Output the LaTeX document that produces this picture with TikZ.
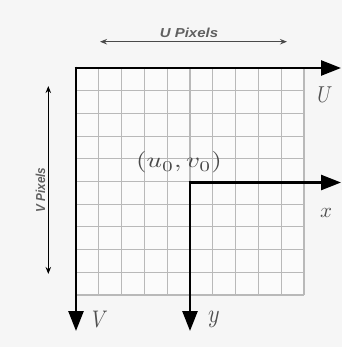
\documentclass[tikz,border=0pt]{standalone}
\usepackage{fontspec}
\newfontfamily\lblfont{Liberation Sans}
\usetikzlibrary{arrows.meta}
\definecolor{bgc}{HTML}{F6F6F6}
\definecolor{gridc}{HTML}{B9B9B9}
\definecolor{pixc}{HTML}{606060}
\definecolor{dimc}{HTML}{4A4A4A}
\definecolor{mathc}{HTML}{505050}
\tikzset{
  axis/.style={line width=2.6pt, -{Triangle[length=20pt,width=15pt]}},
  gridline/.style={draw=gridc, line width=1.1pt},
  dimarrow/.style={draw=dimc, line width=1.4pt, {Stealth[length=7pt,width=5.5pt]}-{Stealth[length=7pt,width=5.5pt]}},
  pixlabel/.style={text=pixc, font=\lblfont\bfseries\itshape\fontsize{13}{15}\selectfont, inner sep=0pt},
  mathlabel/.style={text=mathc, font=\normalsize, inner sep=0pt},
}
\begin{document}
\begin{tikzpicture}[x=1pt,y=-1pt]
\useasboundingbox[fill=bgc] (0,0) rectangle (342,347);
% grid
\fill[white!60!bgc] (76,68) rectangle (304,295);
\foreach \i in {0,...,10} {
  \draw[gridline] ({76+\i*22.8},68) -- ({76+\i*22.8},295);
  \draw[gridline] (76,{68+\i*22.7}) -- (304,{68+\i*22.7});
}
% coordinates
\coordinate (O) at (76,68);
\coordinate (Uend) at (341,68);
\coordinate (Vend) at (76,331);
\coordinate (O2) at (190,182.5);
\coordinate (xend) at (341,182.5);
\coordinate (yend) at (190,331);
% axes
\draw[axis] ([xshift=-1.3pt]O) -- (Uend);
\draw[axis] ([yshift=1.3pt]O) -- (Vend);
\draw[axis] ([xshift=-1.3pt]O2) -- (xend);
\draw[axis] ([yshift=1.3pt]O2) -- (yend);
% labels
\node[mathlabel, xscale=1.9, yscale=2.3] (lU) at (325,95) {$U$};
\node[mathlabel, xscale=2.0, yscale=2.4] (lV) at (100,319) {$V$};
\node[mathlabel, scale=2.1] (lx) at (326,212.5) {$x$};
\node[mathlabel, xscale=2.2, yscale=2.6] (ly) at (214,319) {$y$};
\node[mathlabel, text=dimc, xscale=2.7, yscale=2.15] (uv) at (179,162.5) {$(u_0,v_0)$};
% U Pixels
\coordinate (ua) at (100,41.7);
\coordinate (ub) at (287,41.7);
\draw[dimarrow] (ua) -- (ub);
\node[pixlabel, xscale=1.15] (upix) at (189,32.5) {U Pixels};
% V Pixels
\coordinate (va) at (48.3,86);
\coordinate (vb) at (48.3,274);
\draw[dimarrow, draw=black, line width=1.2pt] (va) -- (vb);
\node[pixlabel, rotate=90, xscale=0.9] (vpix) at (40.5,190) {V Pixels};
\end{tikzpicture}
\end{document}
